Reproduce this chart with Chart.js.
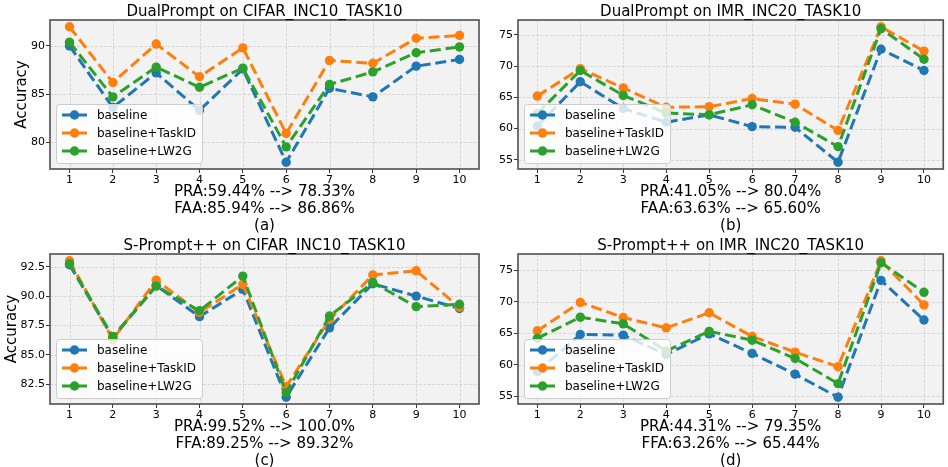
<!DOCTYPE html>
<html>
<head>
<meta charset="utf-8">
<script src="https://cdn.jsdelivr.net/npm/chart.js@4/dist/chart.umd.min.js"></script>
<style>
html,body{margin:0;padding:0;background:#ffffff;width:948px;height:467px;overflow:hidden}
.p{position:absolute}
canvas{display:block}
</style>
</head>
<body>
<div class="p" style="left:0;top:0"><canvas id="ca" width="485" height="234"></canvas></div>
<div class="p" style="left:485px;top:0"><canvas id="cb" width="463" height="234"></canvas></div>
<div class="p" style="left:0;top:234px"><canvas id="cc" width="485" height="233"></canvas></div>
<div class="p" style="left:485px;top:234px"><canvas id="cd" width="463" height="233"></canvas></div>
<script>
// ---------- data ----------
const tasks = [1, 2, 3, 4, 5, 6, 7, 8, 9, 10];
const seriesNames = ['baseline', 'baseline+TaskID', 'baseline+LW2G'];

// (a) DualPrompt on CIFAR_INC10_TASK10
const dpCifarBaseline = [90.0, 83.6, 87.2, 83.3, 87.6, 77.9, 85.6, 84.7, 87.9, 88.6];
const dpCifarTaskID   = [92.0, 86.2, 90.2, 86.8, 89.8, 80.9, 88.5, 88.2, 90.8, 91.1];
const dpCifarLW2G     = [90.4, 84.7, 87.8, 85.7, 87.7, 79.5, 86.0, 87.3, 89.3, 89.9];

// (b) DualPrompt on IMR_INC20_TASK10
const dpImrBaseline = [60.4, 67.5, 63.2, 61.0, 62.2, 60.3, 60.2, 54.6, 72.7, 69.3];
const dpImrTaskID   = [65.2, 69.6, 66.5, 63.4, 63.5, 64.8, 63.9, 59.7, 76.3, 72.4];
const dpImrLW2G     = [62.4, 69.3, 65.3, 62.5, 62.2, 63.8, 61.0, 57.1, 76.0, 71.1];

// (c) S-Prompt++ on CIFAR_INC10_TASK10
const spCifarBaseline = [92.67, 86.45, 90.9, 88.25, 90.57, 81.4, 87.3, 91.05, 90.0, 88.95];
const spCifarTaskID   = [93.0, 86.3, 91.36, 88.6, 91.0, 82.3, 88.0, 91.8, 92.15, 89.05];
const spCifarLW2G     = [92.75, 86.55, 90.85, 88.75, 91.7, 81.8, 88.3, 91.15, 89.1, 89.3];

// (d) S-Prompt++ on IMR_INC20_TASK10
const spImrBaseline = [58.9, 64.8, 64.7, 61.65, 64.9, 61.8, 58.5, 54.85, 73.4, 67.1];
const spImrTaskID   = [65.4, 69.9, 67.5, 65.85, 68.25, 64.5, 62.0, 59.7, 76.5, 69.5];
const spImrLW2G     = [64.2, 67.55, 66.5, 62.2, 65.3, 63.9, 61.0, 57.0, 76.2, 71.5];

const panelTitles = [
  'DualPrompt on CIFAR_INC10_TASK10',
  'DualPrompt on IMR_INC20_TASK10',
  'S-Prompt++ on CIFAR_INC10_TASK10',
  'S-Prompt++ on IMR_INC20_TASK10'
];
const panelNotes = [
  ['PRA:59.44% --> 78.33%', 'FAA:85.94% --> 86.86%', '(a)'],
  ['PRA:41.05% --> 80.04%', 'FAA:63.63% --> 65.60%', '(b)'],
  ['PRA:99.52% --> 100.0%', 'FFA:89.25% --> 89.32%', '(c)'],
  ['PRA:44.31% --> 79.35%', 'FFA:63.26% --> 65.44%', '(d)']
];
const yTicksA = [80, 85, 90];
const yTicksB = [55, 60, 65, 70, 75];
const yTicksC = [82.5, 85.0, 87.5, 90.0, 92.5];
const yTicksD = [55, 60, 65, 70, 75];
const yLabel = 'Accuracy';

// ---------- style ----------
const FONT = '"DejaVu Sans", "Liberation Sans", sans-serif';
const COLORS = ['#1f77b4', '#ff7f0e', '#2ca02c'];

const panelPlugin = {
  id: 'panelDeco',
  beforeDatasetsDraw(chart) {
    const {ctx, chartArea: a, scales: {x, y}} = chart;
    ctx.save();
    ctx.fillStyle = '#f2f2f2';
    ctx.fillRect(a.left, a.top, a.right - a.left, a.bottom - a.top);
    ctx.strokeStyle = '#d2d2d2';
    ctx.lineWidth = 0.9;
    ctx.setLineDash([3, 1.5]);
    x.ticks.forEach(t => {
      const px = Math.round(x.getPixelForValue(t.value)) + 0.5;
      ctx.beginPath(); ctx.moveTo(px, a.top); ctx.lineTo(px, a.bottom); ctx.stroke();
    });
    y.ticks.forEach(t => {
      const py = Math.round(y.getPixelForValue(t.value)) + 0.5;
      ctx.beginPath(); ctx.moveTo(a.left, py); ctx.lineTo(a.right, py); ctx.stroke();
    });
    ctx.restore();
  },
  afterDatasetsDraw(chart, args, opts) {
    const {ctx, chartArea: a} = chart;
    ctx.save();
    // frame
    ctx.strokeStyle = '#4f4f4f';
    ctx.lineWidth = 1.6;
    ctx.strokeRect(a.left, a.top, a.right - a.left, a.bottom - a.top);
    // legend
    ctx.font = '12px ' + FONT;
    let maxW = 0;
    seriesNames.forEach(n => { maxW = Math.max(maxW, ctx.measureText(n).width); });
    const bw = 41 + maxW + 6, bh = 59;
    const bx = a.left + 6, by = a.bottom - 6 - bh;
    ctx.fillStyle = 'rgba(255,255,255,0.8)';
    ctx.strokeStyle = '#cccccc';
    ctx.lineWidth = 1;
    ctx.beginPath();
    ctx.roundRect(bx + 0.5, by + 0.5, bw, bh, 3);
    ctx.fill(); ctx.stroke();
    seriesNames.forEach((n, i) => {
      const cy = by + 11 + i * 18;
      ctx.strokeStyle = COLORS[i];
      ctx.lineWidth = 3;
      ctx.setLineDash([11, 4.8]);
      ctx.beginPath(); ctx.moveTo(bx + 6, cy); ctx.lineTo(bx + 31, cy); ctx.stroke();
      ctx.setLineDash([]);
      ctx.fillStyle = COLORS[i];
      ctx.beginPath(); ctx.arc(bx + 18.5, cy, 4.7, 0, Math.PI * 2); ctx.fill();
      ctx.fillStyle = '#000000';
      ctx.textAlign = 'left';
      ctx.textBaseline = 'middle';
      ctx.fillText(n, bx + 41, cy + 0.5);
    });
    ctx.restore();
  },
  afterDraw(chart, args, opts) {
    const {ctx, chartArea: a, scales: {y}} = chart;
    const cx = (a.left + a.right) / 2;
    ctx.save();
    ctx.fillStyle = '#000000';
    ctx.textAlign = 'center';
    ctx.textBaseline = 'middle';
    ctx.font = '15px ' + FONT;
    ctx.fillText(opts.title, cx, a.top - 8.3);
    opts.notes.forEach((t, i) => {
      ctx.fillText(t, cx, a.bottom + 22.7 + i * 17.4);
    });
    if (opts.showYLabel) {
      ctx.font = '11px ' + FONT;
      let maxW = 0;
      y.ticks.forEach(t => { maxW = Math.max(maxW, ctx.measureText(t.label).width); });
      const labelLeft = a.left - 4 - 1 - maxW;
      ctx.font = '15px ' + FONT;
      ctx.translate(labelLeft - 8.5, (a.top + a.bottom) / 2);
      ctx.rotate(-Math.PI / 2);
      ctx.fillText(yLabel, 0, 0);
    }
    ctx.restore();
  }
};

function makeChart(id, series, yTicks, decimals, opts) {
  const all = [].concat(...series);
  const lo = Math.min(...all), hi = Math.max(...all);
  const m = (hi - lo) * 0.05;
  const datasets = series.map((vals, i) => ({
    label: seriesNames[i],
    data: vals.map((v, k) => ({x: tasks[k], y: v})),
    borderColor: COLORS[i],
    backgroundColor: COLORS[i],
    borderWidth: 3,
    borderDash: [11, 4.8],
    pointRadius: 4.7,
    pointHoverRadius: 4.7,
    pointBorderWidth: 0,
    pointBackgroundColor: COLORS[i],
    pointBorderColor: COLORS[i],
    tension: 0,
    fill: false,
    order: 3 - i
  }));
  return new Chart(document.getElementById(id), {
    type: 'line',
    data: {datasets},
    options: {
      responsive: false,
      animation: false,
      events: [],
      layout: {padding: opts.padding},
      plugins: {
        legend: {display: false},
        tooltip: {enabled: false},
        panelDeco: {title: opts.title, notes: opts.notes, showYLabel: opts.showYLabel}
      },
      scales: {
        x: {
          type: 'linear',
          min: 0.55, max: 10.45,
          afterBuildTicks: s => { s.ticks = tasks.map(v => ({value: v})); },
          afterFit: s => { s.height = 20; },
          ticks: {
            font: {family: FONT, size: 11}, color: '#000000', padding: 1,
            autoSkip: false, maxRotation: 0, minRotation: 0,
            callback: v => String(v)
          },
          grid: {drawOnChartArea: false, drawTicks: true, tickLength: 4, tickColor: '#333333', tickWidth: 1},
          border: {display: false}
        },
        y: {
          type: 'linear',
          min: lo - m, max: hi + m,
          afterBuildTicks: s => { s.ticks = yTicks.map(v => ({value: v})); },
          afterFit: s => { s.width = opts.yWidth; },
          ticks: {
            font: {family: FONT, size: 11}, color: '#000000', padding: 1,
            autoSkip: false,
            callback: v => Number(v).toFixed(decimals)
          },
          grid: {drawOnChartArea: false, drawTicks: true, tickLength: 4, tickColor: '#333333', tickWidth: 1},
          border: {display: false}
        }
      }
    },
    plugins: [panelPlugin]
  });
}

makeChart('ca', [dpCifarBaseline, dpCifarTaskID, dpCifarLW2G], yTicksA, 0, {
  title: panelTitles[0], notes: panelNotes[0], showYLabel: true, yWidth: 50,
  padding: {left: 0, right: 6, top: 20, bottom: 45}
});
makeChart('cb', [dpImrBaseline, dpImrTaskID, dpImrLW2G], yTicksB, 0, {
  title: panelTitles[1], notes: panelNotes[1], showYLabel: false, yWidth: 33,
  padding: {left: 0, right: 1, top: 20, bottom: 45}
});
makeChart('cc', [spCifarBaseline, spCifarTaskID, spCifarLW2G], yTicksC, 1, {
  title: panelTitles[2], notes: panelNotes[2], showYLabel: true, yWidth: 50,
  padding: {left: 0, right: 6, top: 20, bottom: 43}
});
makeChart('cd', [spImrBaseline, spImrTaskID, spImrLW2G], yTicksD, 0, {
  title: panelTitles[3], notes: panelNotes[3], showYLabel: false, yWidth: 33,
  padding: {left: 0, right: 1, top: 20, bottom: 43}
});
</script>
</body>
</html>
